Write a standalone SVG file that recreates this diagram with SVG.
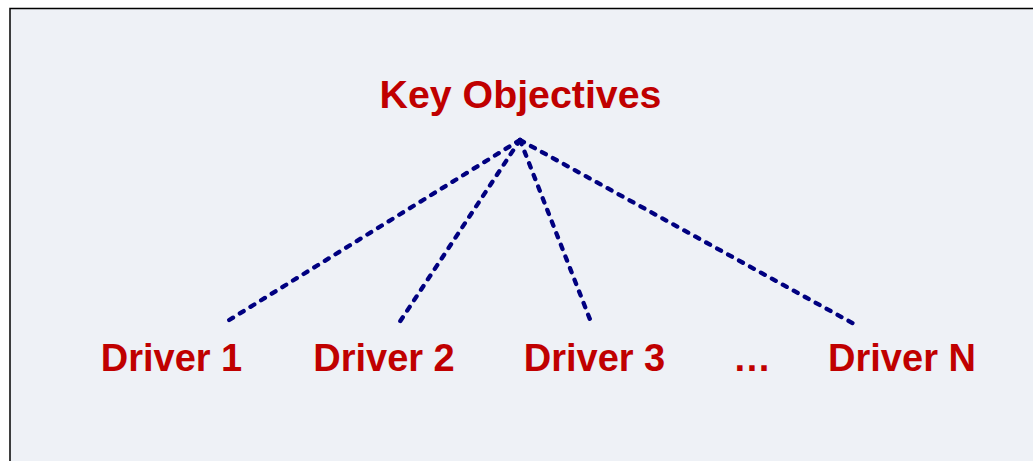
<svg xmlns="http://www.w3.org/2000/svg" width="1033" height="461" viewBox="0 0 1033 461">
<style>
.lbl{font-family:"Liberation Sans",Arial,sans-serif;font-weight:bold;font-size:38px;fill:#C00000;text-anchor:middle}
.title{font-size:39.3px}
.con{stroke:#000080;stroke-width:4.3;stroke-linecap:round;stroke-dasharray:4.5 8;fill:none}
</style>
<rect x="10" y="8.5" width="1040" height="470" fill="#EEF1F6" stroke="#000000" stroke-width="1.5"/>
<g id="connectors">
<line class="con" x1="520" y1="140" x2="226" y2="322"/>
<line class="con" x1="520" y1="140" x2="399" y2="323"/>
<line class="con" x1="520" y1="140" x2="591" y2="322"/>
<line class="con" x1="520" y1="140" x2="856" y2="325"/>
</g>
<g id="key-objectives"><text class="lbl title" x="520.5" y="107.5">Key Objectives</text></g>
<g id="driver-1"><text class="lbl" x="171.5" y="371">Driver 1</text></g>
<g id="driver-2"><text class="lbl" x="384" y="371">Driver 2</text></g>
<g id="driver-3"><text class="lbl" x="594.5" y="371">Driver 3</text></g>
<g id="ellipsis"><text class="lbl" x="752" y="371">…</text></g>
<g id="driver-n"><text class="lbl" x="902" y="371">Driver N</text></g>
</svg>
